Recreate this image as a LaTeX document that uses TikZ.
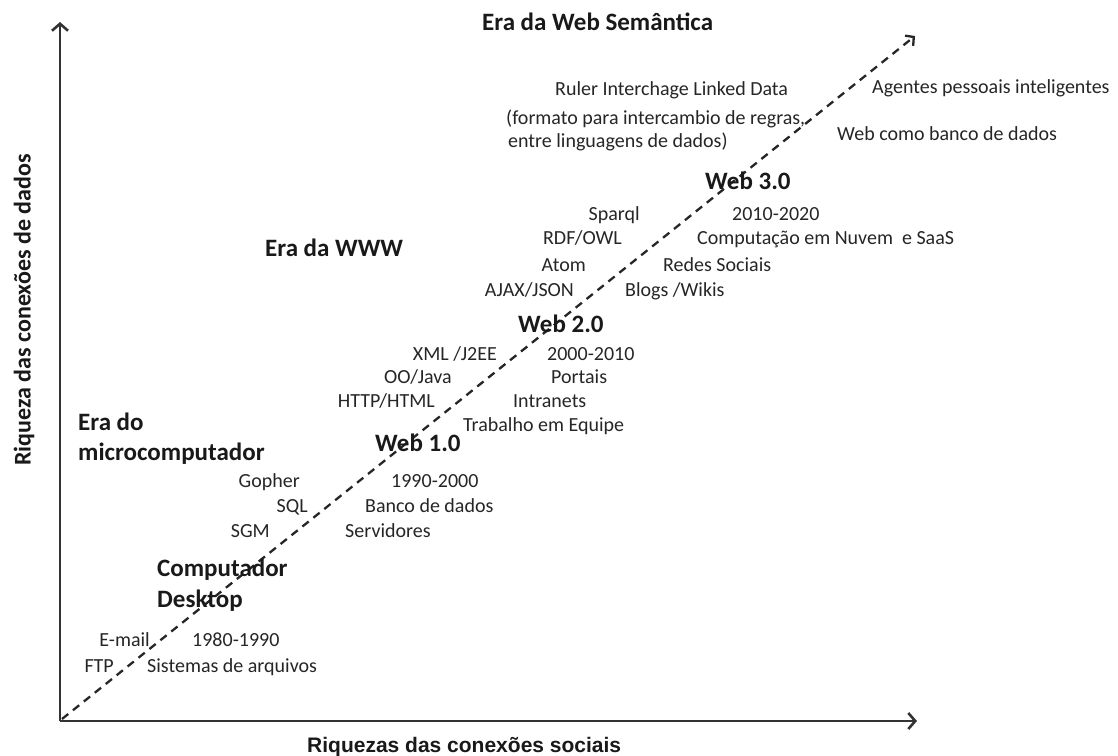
\documentclass[tikz,border=0pt]{standalone}
\usepackage{fontspec}
\setmainfont{Carlito}
\newfontfamily\axisfont{Liberation Sans}
\usetikzlibrary{arrows.meta}

\begin{document}
\begin{tikzpicture}[x=1pt,y=-1pt,
  txt/.style={font=\fontsize{20}{24}\selectfont, text=black!85, inner sep=0pt},
  lft/.style={txt, anchor=base east},
  rgt/.style={txt, anchor=base west},
  head/.style={font=\bfseries\fontsize{25}{30}\selectfont, text=black!90, inner sep=0pt, anchor=base west},
  axisline/.style={line width=2.6pt, draw=black!80, -{Straight Barb[length=7pt,width=16pt]}},
  trend/.style={line width=2.3pt, draw=black!85, dash pattern=on 8pt off 6pt, -{Straight Barb[length=6pt,width=13pt]}},
]
\useasboundingbox (0,0) rectangle (1118,755);
\fill[white] (0,0) rectangle (1118,755);

% axes and trend line
\coordinate (O) at (60,721);
\coordinate (ytip) at (60,22);
\coordinate (xtip) at (917,721);
\coordinate (tstart) at (62,719);
\coordinate (ttip) at (915,36);
\draw[axisline] (O) -- (ytip);
\draw[axisline] (O) -- (xtip);
\draw[trend] (tstart) -- (ttip);

% axis titles
\node[font=\axisfont\bfseries\fontsize{21}{25}\selectfont, text=black!90, inner sep=0pt, anchor=base west] (xlabel) at (307,752) {Riquezas das conexões sociais};
\node[font=\bfseries\fontsize{24}{28}\selectfont, text=black!90, inner sep=0pt, rotate=90] (ylabel) at (24,310) {Riqueza das conexões de dados};

% eras and stages
\node[head] (eraSem) at (482,30) {Era da Web Semântica};
\node[head] (web3) at (705,189) {Web 3.0};
\node[head] (eraWWW) at (265,256) {Era da WWW};
\node[head] (web2) at (518,332) {Web 2.0};
\node[head] (eraMicro) at (78,430) {Era do};
\node[head] (micro) at (78,460) {microcomputador};
\node[head] (web1) at (375,451) {Web 1.0};
\node[head] (desk1) at (157,576) {Computador};
\node[head] (desk2) at (157,607) {Desktop};

% semantic web
\node[rgt] (ruler) at (555,95) {Ruler Interchage Linked Data};
\node[rgt] (formato) at (506,124) {(formato para intercambio de regras,};
\node[rgt] (entre) at (508,147) {entre linguagens de dados)};
\node[rgt] (agentes) at (872,93) {Agentes pessoais inteligentes};
\node[rgt] (webdb) at (837,140) {Web como banco de dados};

% web 3.0
\node[lft] (sparql) at (640,220) {Sparql};
\node[lft] (rdf) at (622,244) {RDF/OWL};
\node[lft] (atom) at (586,271) {Atom};
\node[lft] (ajax) at (574,296) {AJAX/JSON};
\node[rgt] (y3) at (732,220) {2010-2020};
\node[rgt] (cloud) at (697,244) {Computação em Nuvem\ \ e SaaS};
\node[rgt] (redes) at (663,271) {Redes Sociais};
\node[rgt] (blogs) at (625,296) {Blogs /Wikis};

% web 2.0
\node[lft] (xml) at (497,360) {XML /J2EE};
\node[lft] (oo) at (452,383) {OO/Java};
\node[lft] (http) at (435,407) {HTTP/HTML};
\node[rgt] (y2) at (547,360) {2000-2010};
\node[rgt] (portais) at (551,383) {Portais};
\node[rgt] (intra) at (513,407) {Intranets};
\node[rgt] (equipe) at (463,431) {Trabalho em Equipe};

% web 1.0
\node[lft] (gopher) at (300,487) {Gopher};
\node[lft] (sql) at (308,512) {SQL};
\node[lft] (sgm) at (270,537) {SGM};
\node[rgt] (y1) at (391,487) {1990-2000};
\node[rgt] (banco) at (365,512) {Banco de dados};
\node[rgt] (serv) at (345,537) {Servidores};

% desktop
\node[lft] (email) at (150,646) {E-mail};
\node[lft] (ftp) at (114,672) {FTP};
\node[rgt] (y0) at (192,646) {1980-1990};
\node[rgt] (sist) at (147,672) {Sistemas de arquivos};
\end{tikzpicture}
\end{document}
